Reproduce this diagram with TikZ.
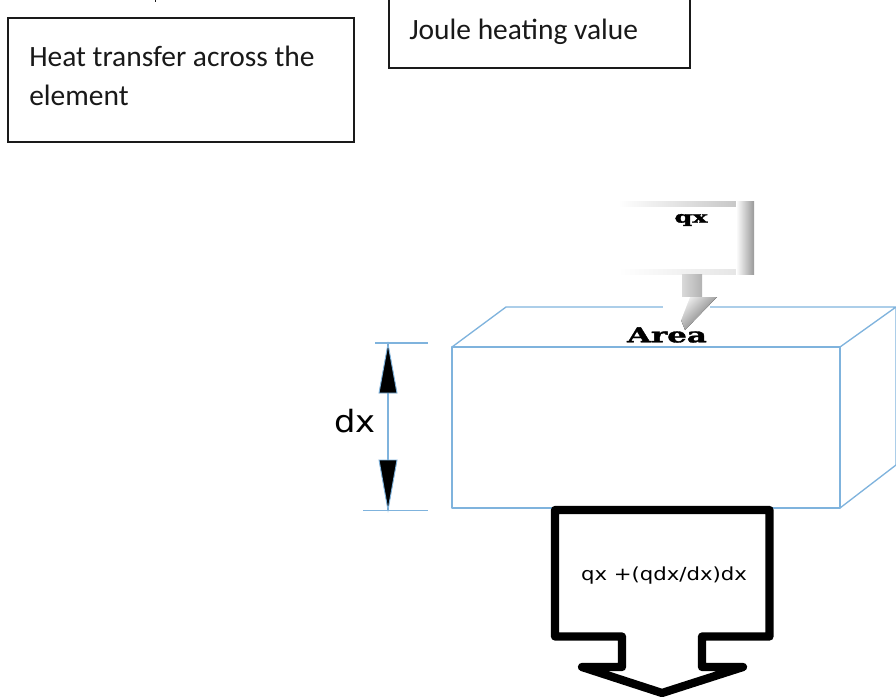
\documentclass[tikz,border=0pt]{standalone}
\usepackage{fontspec}
\setmainfont{Carlito}
\newfontfamily\wideface{DejaVu Sans}
\newfontfamily\slabface[BoldFeatures={FakeBold=1.5}]{DejaVu Serif}
\definecolor{boxblue}{HTML}{7FB3DD}
\definecolor{darkline}{HTML}{1A1A1A}
\begin{document}
\begin{tikzpicture}[x=0.75pt,y=-0.75pt,
  labelbox/.style={draw=darkline,line width=0.8pt,fill=white,inner sep=0pt},
  boxtext/.style={font=\fontsize{22.1}{29.3}\selectfont,anchor=base west,inner sep=0pt,align=left,text=black!90},
  edge3d/.style={draw=boxblue,line width=1pt,line join=round},
  dimline/.style={draw=boxblue,line width=1.1pt},
  dimhead/.style={draw=boxblue,fill=black,line width=0.7pt,line join=miter},
  bigarrow/.style={draw=black,line width=6.2pt,line join=round,line cap=round,fill=white}]
\useasboundingbox (0,0) rectangle (896,699);
% top boxes
\draw[line width=0.7pt,darkline] (155,0) -- (155,2);
\draw[labelbox] (8,18) rectangle (354,142);
\node[boxtext] (heat) at (29,67) {Heat transfer across the};
\node[boxtext] (heat2) at (29,105) {element};
\draw[labelbox] (389,-2) rectangle (690,68);
\node[boxtext] (joule) at (409,40) {Joule heating value};
% element
\draw[edge3d] (452,347) -- (506,307) -- (896,307) -- (840,347);
\draw[edge3d] (896,307) -- (896,465) -- (840,508);
\draw[edge3d] (452,347) rectangle (840,508);
% dimension
\coordinate (dt) at (388,344);
\coordinate (db) at (388,510);
\coordinate (dtl) at (375,343);
\coordinate (dtr) at (428,343);
\coordinate (dbl) at (363,510.5);
\coordinate (dbr) at (428,510.5);
\draw[dimline] (dtl) -- (dtr);
\draw[dimline] (dbl) -- (dbr);
\draw[dimline] (dt) -- (db);
\draw[dimhead] (dt) -- (379,393) -- (397,393) -- cycle;
\draw[dimhead] (db) -- (379,460) -- (397,460) -- cycle;
\node[font=\wideface\fontsize{23}{26}\selectfont,inner sep=0pt,xscale=1.1] (dx) at (355,421) {dx};
% qx callout with soft shadow
\fill[white] (663,290) rectangle (710,330);
\fill[left color=white,right color=black!22] (618,201) rectangle (737,206);
\fill[left color=white,right color=black!10] (618,269) rectangle (737,274);
\fill[left color=white,middle color=black!50,right color=black!40] (736,201) rectangle (754,274);
\fill[left color=black!15,middle color=black!50,right color=black!30] (682,274) rectangle (702,297);
\fill[left color=white,right color=black!60,shading angle=45] (672,297) -- (717,297) -- (685,330) -- cycle;
\fill[white] (660,297) -- (690,297) -- (678,328) -- cycle;
\node[font=\slabface\bfseries\fontsize{12}{13}\selectfont,inner sep=0pt,xscale=1.6] (qx) at (691,220) {qx};
\node[font=\slabface\bfseries\fontsize{15.4}{16}\selectfont,inner sep=0pt,xscale=1.5] (area) at (667,335) {Area};
% lower arrow
\draw[bigarrow] (555,510) -- (769.5,510) -- (769.5,636.5) -- (702,636.5) -- (702,667) -- (743,667) -- (662,693) -- (582,667) -- (622,667) -- (622,636.5) -- (555,636.5) -- cycle;
\node[font=\wideface\fontsize{13.5}{15}\selectfont,inner sep=0pt,xscale=1.18] (flux) at (664,576) {qx +(qdx/dx)dx};
\end{tikzpicture}
\end{document}
